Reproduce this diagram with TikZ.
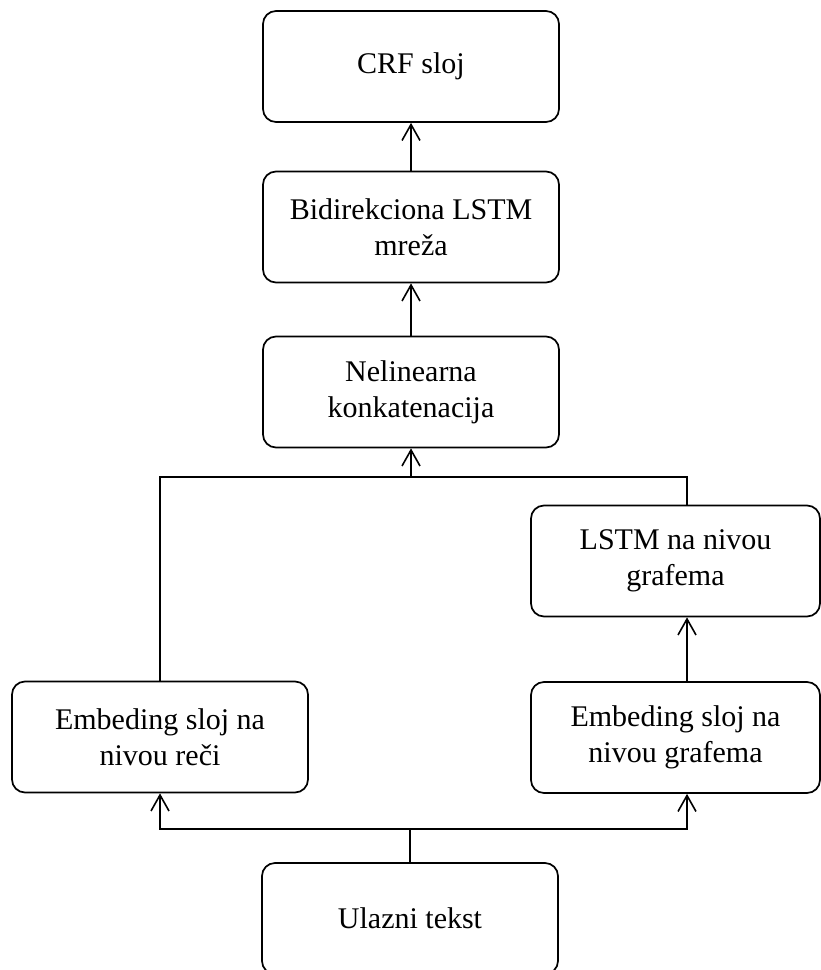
\documentclass[tikz,border=0pt]{standalone}
\usepackage{fontspec}
\setmainfont{Liberation Serif}
\usetikzlibrary{arrows.meta}
\begin{document}
\begin{tikzpicture}[x=1pt,y=-1pt,
  box/.style={draw,line width=1.7pt,rounded corners=13pt,inner sep=0pt,align=center,
    font=\fontsize{30}{36}\selectfont},
  wbox/.style={box,minimum width=296pt,minimum height=111pt},
  nbox/.style={box,minimum width=289pt,minimum height=111pt},
  conn/.style={line width=1.5pt},
  arr/.style={conn,-{Straight Barb[length=16pt,width=18pt,line width=1.6pt]}}]
\useasboundingbox (0,0) rectangle (821,970);
\node[wbox] (crf) at (411,66.5) {CRF sloj};
\node[wbox] (bilstm) at (411,227) {Bidirekciona LSTM\\mreža};
\node[wbox] (nelin) at (411,392) {Nelinearna\\konkatenacija};
\node[nbox] (lstmg) at (675.5,561) {LSTM na nivou\\grafema};
\node[wbox] (embw) at (160,737) {Embeding sloj na\\nivou reči};
\node[nbox] (embg) at (675.5,737.5) {Embeding sloj na\\nivou grafema};
\node[wbox] (input) at (410,918.5) {Ulazni tekst};
\coordinate (split) at (410,829);
\coordinate (join) at (411,477);
\draw[conn] (input.north) -- (split);
\draw[arr] (split) -| (embw.south);
\draw[arr] (split) -| ([xshift=11.5pt]embg.south);
\draw[arr] ([xshift=11.5pt]embg.north) -- ([xshift=11.5pt]lstmg.south);
\draw[conn] (embw.north) |- (join);
\draw[conn] ([xshift=11.5pt]lstmg.north) |- (join);
\draw[arr] (join) -- (nelin.south);
\draw[arr] (nelin.north) -- (bilstm.south);
\draw[arr] (bilstm.north) -- (crf.south);
\end{tikzpicture}
\end{document}
